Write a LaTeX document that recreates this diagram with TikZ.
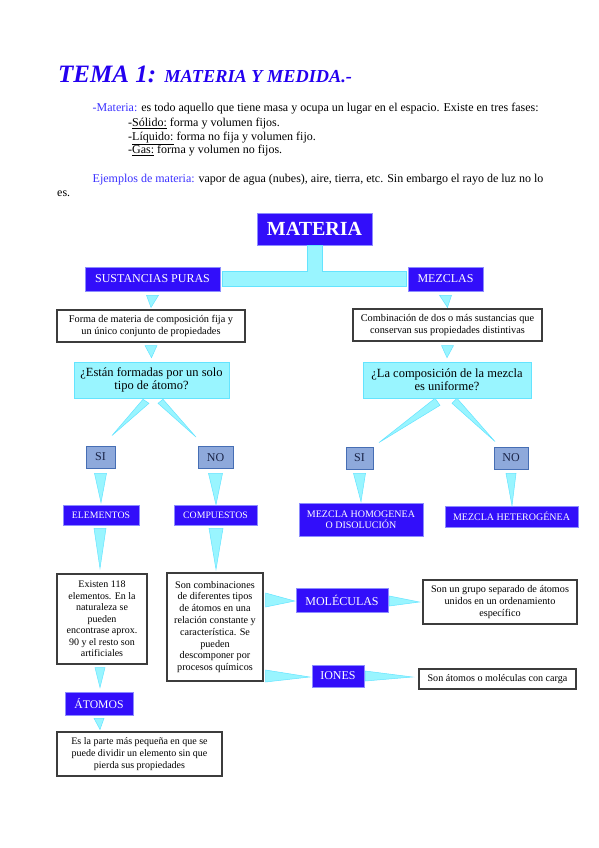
\documentclass[tikz,border=0pt]{standalone}
\usepackage{fontspec}
\setmainfont{Liberation Serif}
\usetikzlibrary{calc}
\definecolor{vivid}{RGB}{50,14,250}
\definecolor{vividedge}{RGB}{140,140,255}
\definecolor{titleblue}{RGB}{36,0,240}
\definecolor{linkblue}{RGB}{60,50,255}
\definecolor{cyanfill}{RGB}{153,245,255}
\definecolor{cyanedge}{RGB}{100,228,255}
\definecolor{sifill}{RGB}{142,169,219}
\definecolor{siedge}{RGB}{70,110,180}
\definecolor{sitext}{RGB}{25,35,70}
\definecolor{boxedge}{RGB}{60,60,60}
\tikzset{
  bluebox/.style={draw=vividedge, line width=0.6pt, fill=vivid, text=white, inner sep=0pt, align=center},
  whitebox/.style={draw=boxedge, line width=1.1pt, fill=white, text=black, inner sep=0pt, align=center},
  qbox/.style={draw=cyanedge, line width=0.6pt, fill=cyanfill, text=black, inner sep=0pt, align=center},
  sibox/.style={draw=siedge, line width=0.9pt, fill=sifill, text=sitext, inner sep=0pt, align=center},
  wedge/.style={fill=cyanfill, draw=cyanedge, line width=0.5pt, line join=miter},
  bodytext/.style={anchor=base west, inner sep=0pt, font=\fontsize{12}{14}\selectfont}
}
\begin{document}
\begin{tikzpicture}[x=1pt,y=-1pt]
\path[use as bounding box, fill=white] (0,0) rectangle (599,848);

% ---------- header text ----------
\node[anchor=base west, inner sep=0pt, text=titleblue] (title) at (58,83)
  {{\fontsize{25}{25}\selectfont\bfseries\itshape TEMA 1: }{\fontsize{18.3}{18}\selectfont\bfseries\itshape MATERIA Y MEDIDA.-}};
\node[bodytext] (l1) at (92.5,112) {\textcolor{linkblue}{-Materia:} es todo aquello que tiene masa y ocupa un lugar en el espacio. Existe en tres fases:};
\node[bodytext] (l2) at (128,126.5) {-\underline{Sólido:} forma y volumen fijos.};
\node[bodytext] (l3) at (128,140) {-\underline{Líquido:} forma no fija y volumen fijo.};
\node[bodytext] (l4) at (128,153.5) {-\underline{Gas:} forma y volumen no fijos.};
\node[bodytext] (l5) at (92.5,182.5) {\textcolor{linkblue}{Ejemplos de materia:} vapor de agua (nubes), aire, tierra, etc. Sin embargo el rayo de luz no lo};
\node[bodytext] (l6) at (57,196) {es.};

% ---------- diagram nodes ----------
\node[bluebox, minimum width=115pt, minimum height=32pt, font=\fontsize{20}{22}\selectfont\bfseries] (materia) at (314.5,229) {MATERIA};
\node[bluebox, minimum width=135pt, minimum height=24pt, font=\fontsize{12}{14}\selectfont] (sp) at (152.5,279) {SUSTANCIAS PURAS};
\node[bluebox, minimum width=75pt, minimum height=24pt, font=\fontsize{12}{14}\selectfont] (mez) at (445.5,279) {MEZCLAS};

\node[whitebox, minimum width=188pt, minimum height=32pt, font=\fontsize{10.3}{12.5}\selectfont] (fm) at (151,326)
  {Forma de materia de composición fija y\\un único conjunto de propiedades};
\node[whitebox, minimum width=189pt, minimum height=32pt, font=\fontsize{10.3}{12.5}\selectfont] (comb) at (447.5,325)
  {Combinación de dos o más sustancias que\\conservan sus propiedades distintivas};

\node[qbox, minimum width=155pt, minimum height=36pt, font=\fontsize{12.5}{13}\selectfont] (q1) at (151.5,380)
  {¿Están formadas por un solo\\tipo de átomo?};
\node[qbox, minimum width=168pt, minimum height=36pt, font=\fontsize{12.5}{13}\selectfont] (q2) at (447,380)
  {¿La composición de la mezcla\\es uniforme?};

\node[sibox, minimum width=29pt, minimum height=22pt, font=\fontsize{12}{12}\selectfont] (si1) at (100.5,457) {SI};
\node[sibox, minimum width=35pt, minimum height=22pt, font=\fontsize{12}{12}\selectfont] (no1) at (215.5,457.5) {NO};
\node[sibox, minimum width=27pt, minimum height=22pt, font=\fontsize{12}{12}\selectfont] (si2) at (359.5,458) {SI};
\node[sibox, minimum width=34pt, minimum height=22pt, font=\fontsize{12}{12}\selectfont] (no2) at (511,458) {NO};

\node[bluebox, minimum width=76pt, minimum height=20pt, font=\fontsize{9.8}{11}\selectfont] (elem) at (101,515) {ELEMENTOS};
\node[bluebox, minimum width=83pt, minimum height=20pt, font=\fontsize{9.8}{11}\selectfont] (comp) at (215.5,515) {COMPUESTOS};
\node[bluebox, minimum width=124pt, minimum height=33pt, font=\fontsize{10}{11.5}\selectfont] (homo) at (361,519.5) {MEZCLA HOMOGENEA\\O DISOLUCIÓN};
\node[bluebox, minimum width=133pt, minimum height=21pt, font=\fontsize{10}{11}\selectfont] (hetero) at (511.5,516.5) {MEZCLA HETEROGÉNEA};

\node[whitebox, minimum width=90pt, minimum height=90pt, font=\fontsize{10}{11.5}\selectfont] (exist) at (102,619)
  {Existen 118\\elementos. En la\\naturaleza se\\pueden\\encontrase aprox.\\90 y el resto son\\artificiales};
\node[whitebox, minimum width=96pt, minimum height=108pt, font=\fontsize{10.2}{11.8}\selectfont] (soncomb) at (215,627)
  {Son combinaciones\\de diferentes tipos\\de átomos en una\\relación constante y\\característica. Se\\pueden\\descomponer por\\procesos químicos};

\node[bluebox, minimum width=68pt, minimum height=23pt, font=\fontsize{11.7}{12}\selectfont] (atomos) at (99,703.5) {ÁTOMOS};
\node[whitebox, minimum width=165pt, minimum height=44pt, font=\fontsize{10}{12}\selectfont] (esla) at (139.5,754)
  {Es la parte más pequeña en que se\\puede dividir un elemento sin que\\pierda sus propiedades};

\node[bluebox, minimum width=92pt, minimum height=24pt, font=\fontsize{12}{14}\selectfont] (mol) at (342,600) {MOLÉCULAS};
\node[whitebox, minimum width=154pt, minimum height=44pt, font=\fontsize{10.2}{11.7}\selectfont] (sonun) at (500,602)
  {Son un grupo separado de átomos\\unidos en un ordenamiento\\específico};
\node[bluebox, minimum width=52pt, minimum height=22pt, font=\fontsize{12}{14}\selectfont] (iones) at (338,676) {IONES};
\node[whitebox, minimum width=157pt, minimum height=20pt, font=\fontsize{10.1}{11.5}\selectfont] (sonat) at (497.5,679) {Son átomos o moléculas con carga};

% ---------- T connector from MATERIA ----------
\coordinate (sL) at ($(materia.south)+(-7.5,0)$);
\coordinate (sR) at ($(materia.south)+(7.5,0)$);
\coordinate (bTL) at ($(sp.east)+(2,-7.5)$);
\coordinate (bBL) at ($(sp.east)+(2,7.5)$);
\coordinate (bTR) at ($(mez.west)+(-1,-7.5)$);
\coordinate (bBR) at ($(mez.west)+(-1,7.5)$);
\draw[wedge] (sL) -- (sR) -- (sR |- bTR) -- (bTR) -- (bBR) -- (bBL) -- (bTL) -- (sL |- bTL) -- cycle;

% ---------- down triangles ----------
\draw[wedge] ($(sp.south)+(-6,4)$) -- ($(sp.south)+(6,4)$) -- ($(fm.north)+(0,-2)$) -- cycle;
\draw[wedge] ($(fm.south)+(-6,3)$) -- ($(fm.south)+(6,3)$) -- ($(q1.north)+(0,-4)$) -- cycle;
\draw[wedge] ($(mez.south)+(-6,4)$) -- ($(mez.south)+(6,4)$) -- ($(comb.north)+(0,-1)$) -- cycle;
\draw[wedge] ($(comb.south)+(-6,4)$) -- ($(comb.south)+(6,4)$) -- ($(q2.north)+(0,-4)$) -- cycle;

% ---------- wedges from questions ----------
\draw[wedge] ($(q1.south)+(-8.5,1)$) -- ($(q1.south)+(-2.5,5)$) -- ($(si1.north)+(11.5,-10)$) -- cycle;
\draw[wedge] ($(q1.south)+(6.5,5)$) -- ($(q1.south)+(11.5,1)$) -- ($(no1.north)+(-19.5,-9)$) -- cycle;
\draw[wedge] ($(q2.south)+(-12,0)$) -- ($(q2.south)+(-7,7)$) -- ($(si2.north)+(19.5,-4)$) -- cycle;
\draw[wedge] ($(q2.south)+(5,5)$) -- ($(q2.south)+(10,0)$) -- ($(no2.north)+(-16,-5)$) -- cycle;

% ---------- SI / NO down triangles ----------
\draw[wedge] ($(si1.south)+(-6,5)$) -- ($(si1.south)+(6,5)$) -- ($(elem.north)+(0,-2)$) -- cycle;
\draw[wedge] ($(no1.south)+(-7,4.5)$) -- ($(no1.south)+(7,4.5)$) -- ($(comp.north)+(0.5,0)$) -- cycle;
\draw[wedge] ($(si2.south)+(-6,4)$) -- ($(si2.south)+(6,4)$) -- ($(homo.north)+(0,-1)$) -- cycle;
\draw[wedge] ($(no2.south)+(-5,4)$) -- ($(no2.south)+(5,4)$) -- ($(hetero.north)+(0.5,0)$) -- cycle;

% ---------- lower column ----------
\draw[wedge] ($(elem.south)+(-7,3)$) -- ($(elem.south)+(5,3)$) -- ($(exist.north)+(-2,-5)$) -- cycle;
\draw[wedge] ($(comp.south)+(-6.5,3)$) -- ($(comp.south)+(7.5,3)$) -- ($(soncomb.north)+(1,-3)$) -- cycle;
\draw[wedge] ($(exist.south)+(-7,3)$) -- ($(exist.south)+(3,3)$) -- ($(atomos.north)+(1,-4)$) -- cycle;
\draw[wedge] ($(atomos.south)+(-5,3)$) -- ($(atomos.south)+(5,3)$) -- ($(esla.north)+(-39.5,-2)$) -- cycle;

% ---------- side wedges ----------
\draw[wedge] ($(soncomb.east)+(2,-34)$) -- ($(soncomb.east)+(2,-20)$) -- ($(mol.west)+(-1,1)$) -- cycle;
\draw[wedge] ($(mol.east)+(1,-4)$) -- ($(mol.east)+(1,6)$) -- ($(sonun.west)+(-3,0)$) -- cycle;
\draw[wedge] ($(soncomb.east)+(2,43)$) -- ($(soncomb.east)+(2,55)$) -- ($(iones.west)+(-2,1)$) -- cycle;
\draw[wedge] ($(iones.east)+(1,-5)$) -- ($(iones.east)+(1,5)$) -- ($(sonat.west)+(-6,-2)$) -- cycle;
\end{tikzpicture}
\end{document}
